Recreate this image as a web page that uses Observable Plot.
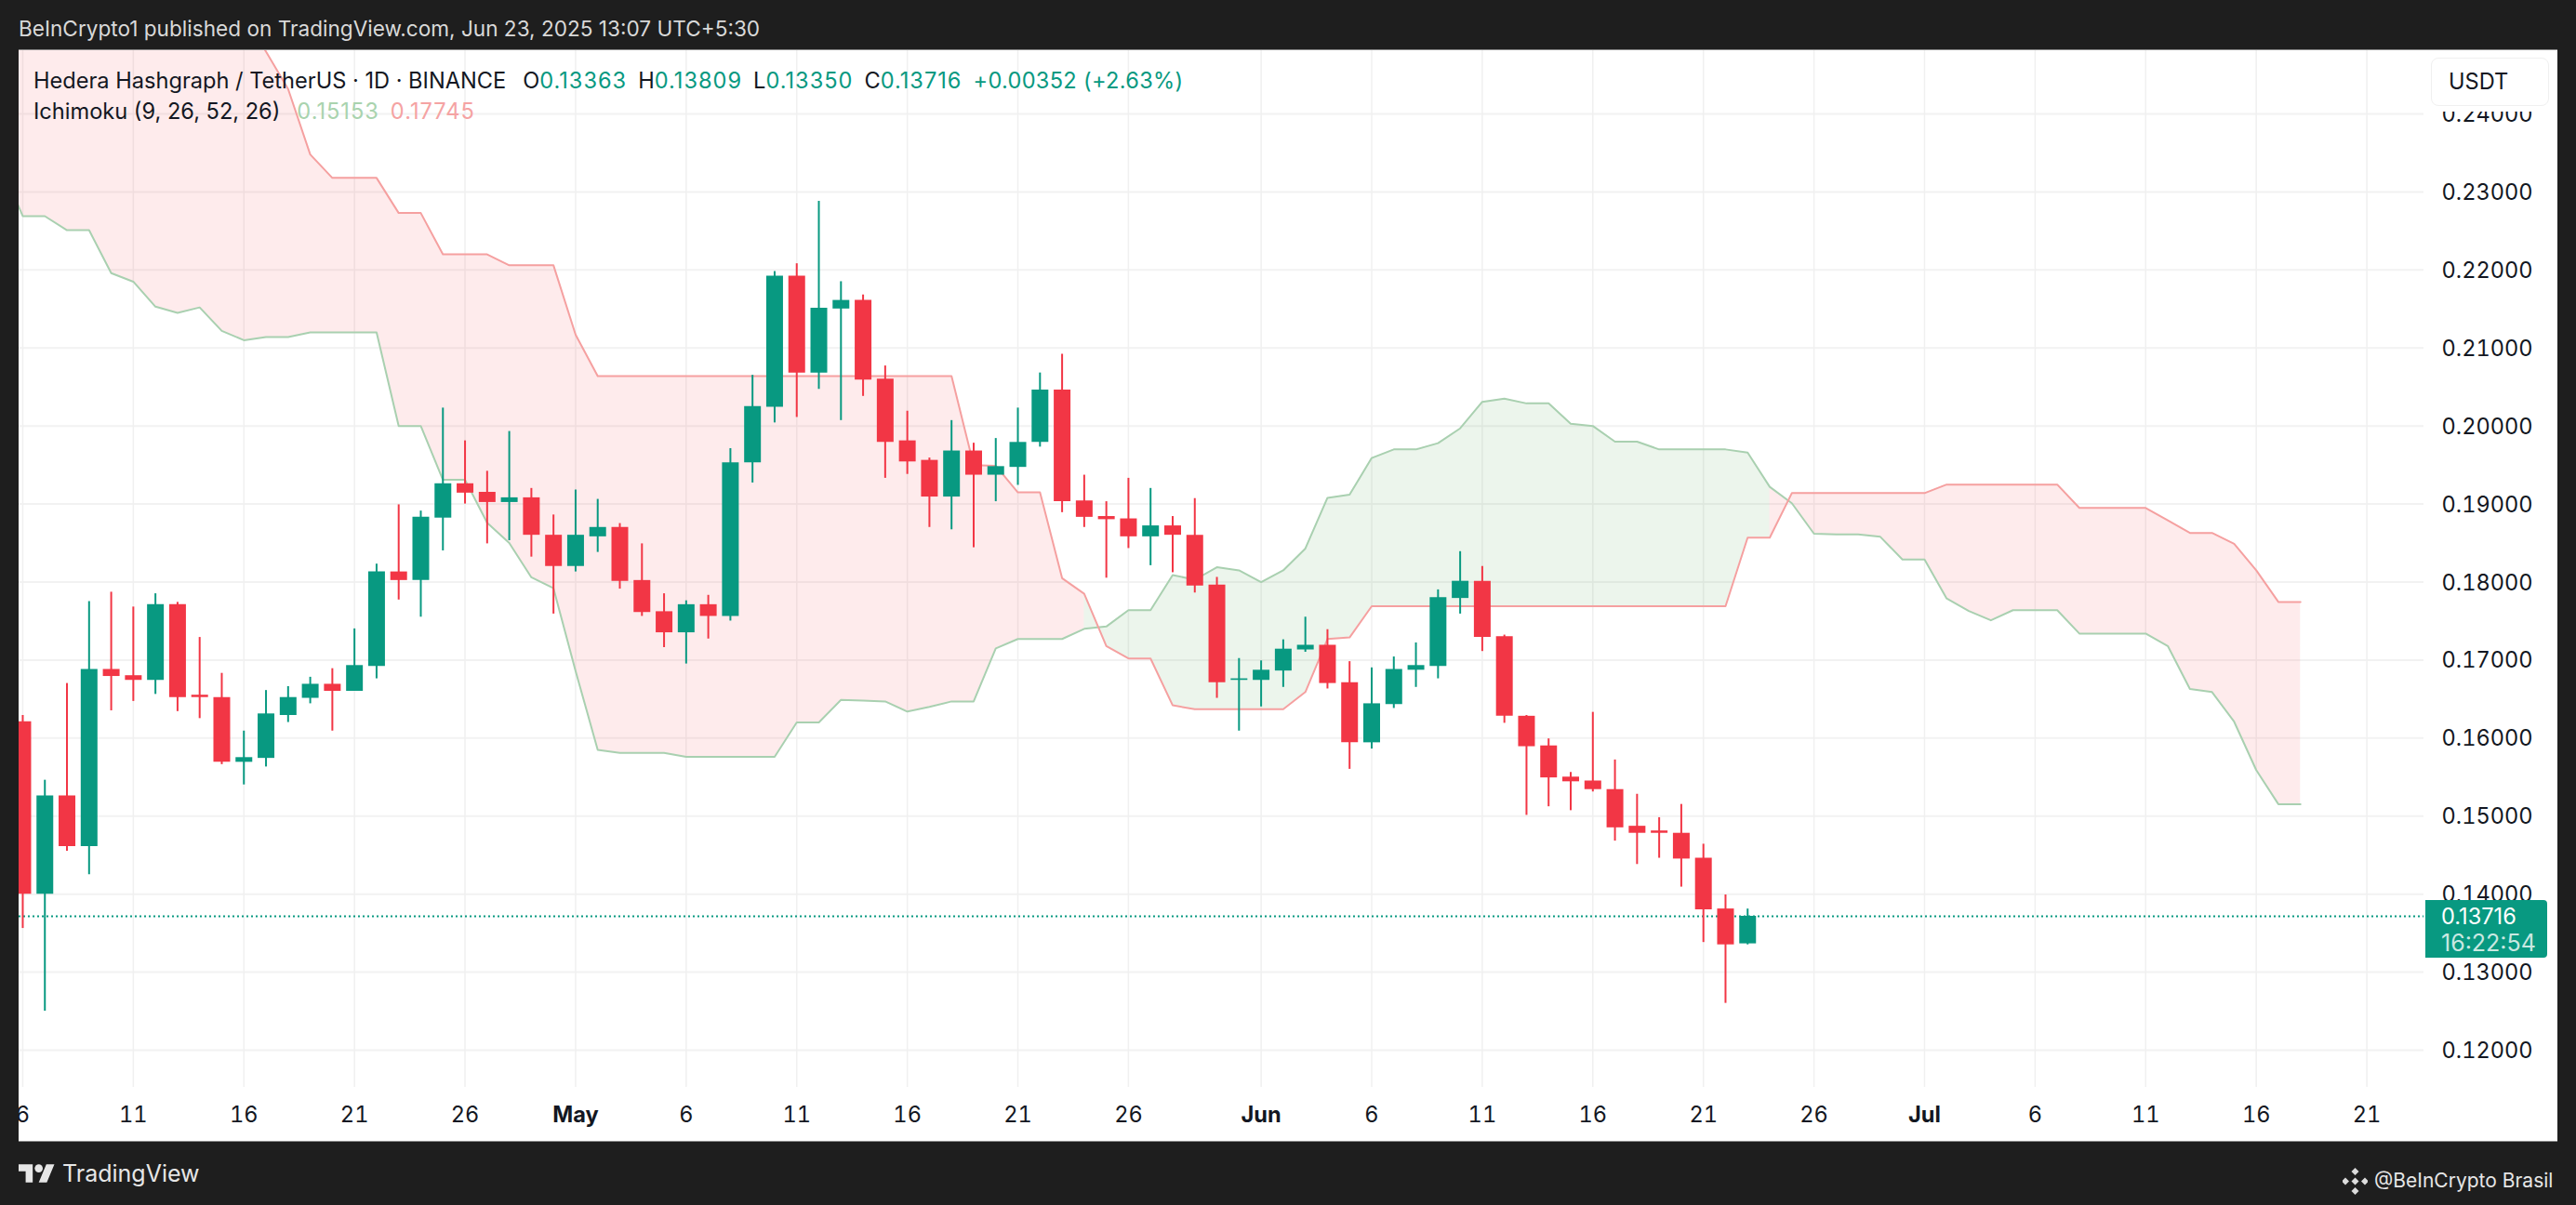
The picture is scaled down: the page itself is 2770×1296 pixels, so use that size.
<!DOCTYPE html>
<html><head><meta charset="utf-8">
<script src="https://cdn.jsdelivr.net/npm/d3@7"></script>
<script src="https://cdn.jsdelivr.net/npm/@observablehq/plot@0.6"></script>
<style>
html,body{margin:0;padding:0;width:2770px;height:1296px;overflow:hidden;background:#1e1e1e;font-family:Inter,Roboto,sans-serif}
.abs{position:absolute;white-space:pre;line-height:1}
#panel{position:absolute;left:20px;top:53px;width:2730px;height:1173px;background:#fff;border-top:1px solid #8c8c8c;border-bottom:1px solid #8c8c8c;box-sizing:content-box}
#chart{position:absolute;left:20px;top:54px}
#chart svg{display:block}
.g{color:#089981;letter-spacing:1px}.k{color:#131722}
.sp{display:inline-block;width:12px}
</style></head><body>
<div id="panel"></div>
<div id="chart"></div>
<div class="abs" style="left:20px;top:20px;font-size:22.6px;color:#d9d9d9">BeInCrypto1 published on TradingView.com, Jun 23, 2025 13:07 UTC+5:30</div>
<div class="abs k" style="left:36px;top:75px;font-size:23.6px">Hedera Hashgraph / TetherUS · 1D · BINANCE<span class="sp" style="width:18px"></span>O<span class="g">0.13363</span><span class="sp"></span>H<span class="g">0.13809</span><span class="sp"></span>L<span class="g">0.13350</span><span class="sp"></span>C<span class="g">0.13716</span><span class="sp"></span><span class="g" style="letter-spacing:0.3px">+0.00352 (+2.63%)</span></div>
<div class="abs k" style="left:36px;top:108px;font-size:23.6px">Ichimoku (9, 26, 52, 26)<span class="sp" style="width:18px"></span><span style="color:#a9d3ae;letter-spacing:1px">0.15153</span><span class="sp"></span><span style="color:#f5a3a3;letter-spacing:1px">0.17745</span></div>
<div style="position:absolute;left:2608px;top:55px;width:141px;height:65px;background:#fff"></div>
<div style="position:absolute;left:2614px;top:62px;width:125px;height:50px;background:#fff;border:1px solid #f0f0f0;border-radius:8px"></div>
<div class="abs k" style="left:2633px;top:76px;font-size:23.6px">USDT</div>
<div style="position:absolute;left:2608px;top:968px;width:131px;height:62px;background:#089981;border-radius:0 4px 4px 0"></div>
<div class="abs" style="left:2625px;top:974px;font-size:23.6px;color:#fff">0.13716</div>
<div class="abs" style="left:2625px;top:1002px;font-size:25px;color:#c9e8e1">16:22:54</div>
<svg style="position:absolute;left:20px;top:1252px" width="39" height="20" viewBox="0 4 36 18"><g fill="#e6e6e6"><path d="M14 22H7V11H0V4h14v18zM28 22h-8l7.5-18h8L28 22z"/><circle cx="20" cy="8" r="4"/></g></svg>
<div class="abs" style="left:67px;top:1250px;font-size:25px;color:#e6e6e6">TradingView</div>
<svg style="position:absolute;left:2519px;top:1256px" width="27" height="29" viewBox="0 0 27 29"><g fill="#dcdcdc"><path d="M13.5 0l4 4-4 4-4-4zM13.5 21l4 4-4 4-4-4zM3 10.5l4 4-4 4-4-4zM24 10.5l4 4-4 4-4-4zM13.5 10.5l4 4-4 4-4-4z"/></g></svg>
<div class="abs" style="left:2553px;top:1259px;font-size:21px;color:#e6e6e6">@BeInCrypto Brasil</div>
<script>
const firstCandle = "2025-04-06";
const opens = [.1621,.1400,.1526,.1461,.1688,.1680,.1674,.1771,.1655,.1652,.1569,.1574,.1629,.1651,.1669,.1660,.1692,.1813,.1802,.1882,.1926,.1915,.1902,.1908,.1860,
 .1820,.1858,.1870,.1802,.1762,.1735,.1771,.1756,.1953,.2024,.2192,.2068,.2150,.2161,.2060,.1981,.1956,.1909,.1968,.1937,.1947,.1979,.2046,.1904,.1884,.1881,.1858,.1872,.1860,.1796,.1674,
 .1674,.1686,.1713,.1719,.1671,.1594,.1643,.1687,.1692,.1779,.1801,.1730,.1628,.1590,.1550,.1545,.1534,.1487,.1481,.1478,.1446,.1381,.13363];
const closes = [.1400,.1526,.1461,.1688,.1679,.1674,.1771,.1652,.1652,.1569,.1575,.1631,.1652,.1669,.1660,.1693,.1813,.1802,.1883,.1926,.1914,.1902,.1908,.1860,.1820,
 .1860,.1870,.1801,.1761,.1735,.1771,.1756,.1953,.2025,.2192,.2068,.2151,.2161,.2059,.1979,.1954,.1909,.1968,.1937,.1948,.1979,.2046,.1903,.1883,.1880,.1858,.1872,.1860,.1795,.1671,.1676,
 .1687,.1714,.1719,.1670,.1594,.1644,.1688,.1693,.1780,.1801,.1729,.1628,.1589,.1549,.1544,.1534,.1485,.1478,.1478,.1445,.1380,.1335,.13716];
const highs = [.1629,.1546,.1670,.1775,.1787,.1768,.1785,.1774,.1729,.1683,.1609,.1661,.1666,.1678,.1689,.1740,.1823,.1899,.1891,.2023,.1981,.1942,.1993,.1920,.1886,
 .1918,.1906,.1875,.1849,.1785,.1776,.1783,.1971,.2065,.2198,.2208,.2288,.2185,.2168,.2077,.2019,.1959,.2007,.1978,.1984,.2023,.2068,.2092,.1937,.1903,.1933,.1920,.1884,.1907,.1806,.1702,
 .1699,.1726,.1755,.1739,.1698,.1690,.1704,.1722,.1790,.1839,.1820,.1732,.1629,.1599,.1556,.1633,.1572,.1528,.1498,.1515,.1464,.1399,.13809];
const lows = [.1356,.1250,.1455,.1425,.1635,.1647,.1656,.1634,.1625,.1566,.1540,.1563,.1620,.1644,.1609,.1660,.1676,.1777,.1755,.1840,.1900,.1849,.1853,.1832,.1759,
 .1813,.1838,.1791,.1756,.1716,.1695,.1727,.1750,.1927,.2004,.2011,.2047,.2007,.2038,.1933,.1938,.1870,.1867,.1844,.1903,.1924,.1973,.1889,.1870,.1805,.1843,.1821,.1812,.1786,.1651,.1609,
 .1640,.1665,.1710,.1663,.1560,.1586,.1638,.1665,.1676,.1759,.1711,.1619,.1501,.1512,.1507,.1531,.1468,.1438,.1446,.1409,.1338,.1260,.13350];

const firstCloud = "2025-04-05";
const spanA = [.2335,
 .2269,.2269,.2251,.2251,.2196,.2185,.2153,.2145,.2152,.2122,.2110,.2114,.2114,.2120,.2120,.2120,.2120,.2000,.2000,.1931,.1931,.1876,.1850,.1806,.1792,
 .1686,.1585,.1581,.1581,.1581,.1576,.1576,.1576,.1576,.1576,.1620,.1620,.1649,.1648,.1647,.1634,.1640,.1647,.1647,.1715,.1727,.1727,.1727,.1740,.1743,.1764,.1764,.1809,.1803,.1819,.1815,
 .1800,.1815,.1843,.1908,.1912,.1959,.1970,.1970,.1978,.1997,.2031,.2035,.2029,.2029,.2003,.2000,.1980,.1980,.1970,.1970,.1970,.1970,.1966,.1922,.1901,.1862,.1861,.1861,.1858,.1829,
 .1829,.1779,.1763,.1751,.1764,.1764,.1764,.1734,.1734,.1734,.1734,.1718,.1663,.1659,.1621,.1559,.15153,.15153];
const spanB = [.2700,.2700,.2700,.2680,.2680,.2650,.2650,.2620,.2600,.2580,.2550,.2520,
 .2480,.2432,.2348,.2318,.2318,.2318,.2273,.2273,.2220,.2220,.2220,.2206,.2206,.2206,
 .2117,.2064,.2064,.2064,.2064,.2064,.2064,.2064,.2064,.2064,.2064,.2064,.2064,.2064,.2064,.2064,.2064,.2064,.1950,.1949,.1915,.1915,.1805,.1785,.1718,.1702,.1702,.1642,.1637,.1637,.1637,
 .1637,.1637,.1659,.1727,.1729,.1769,.1769,.1769,.1769,.1769,.1769,.1769,.1769,.1769,.1769,.1769,.1769,.1769,.1769,.1769,.1769,.1769,.1857,.1857,.1914,.1914,.1914,.1914,.1914,.1914,
 .1914,.1925,.1925,.1925,.1925,.1925,.1925,.1895,.1895,.1895,.1895,.1879,.1863,.1863,.1849,.1815,.17745,.17745];

const lastPrice = 0.13716;
const priceTicks = [.12,.13,.14,.15,.16,.17,.18,.19,.20,.21,.22,.23,.24];
const dayTicks = ["2025-04-06","2025-04-11","2025-04-16","2025-04-21","2025-04-26","2025-05-06","2025-05-11","2025-05-16","2025-05-21","2025-05-26","2025-06-06","2025-06-11","2025-06-16","2025-06-21","2025-06-26","2025-07-06","2025-07-11","2025-07-16","2025-07-21"];
const monthTicks = ["2025-05-01","2025-06-01","2025-07-01"];
const monthNames = ["May","Jun","Jul"];
const greenCloudFrom = "2025-05-24", greenCloudTo = "2025-06-24";

const U = s => new Date(s + "T00:00:00Z");
const addDays = (s, n) => d3.utcDay.offset(U(s), n);
const candles = opens.map((o, i) => ({date: addDays(firstCandle, i), o, c: closes[i], h: highs[i], l: lows[i]}));
const cloud = spanA.map((a, i) => ({date: addDays(firstCloud, i), a, b: spanB[i]}));
const up = d => d.c >= d.o;
const GREEN = "#089981", RED = "#f23645";
const g0 = U(greenCloudFrom), g1 = U(greenCloudTo);
const dayAll = dayTicks.map(U), monthAll = monthTicks.map(U);
const font = {fontSize: 23.6, fill: "#131722", fontFamily: "Inter,Roboto,sans-serif"};

const chart = Plot.plot({
  width: 2730, height: 1171,
  marginLeft: 0, marginRight: 144, marginTop: 0, marginBottom: 56,
  style: {background: "transparent", overflow: "hidden"},
  x: {type: "utc", domain: [new Date(Date.UTC(2025,3,5,20)), new Date(Date.UTC(2025,6,23,14))], range: [0, 2586]},
  y: {domain: [0.11523, 0.24811]},
  marks: [
    Plot.gridY(priceTicks, {stroke: "#f2f2f2", strokeOpacity: 1, strokeWidth: 2}),
    Plot.gridX([...dayAll, ...monthAll], {stroke: "#f0f0f0", strokeOpacity: 1, strokeWidth: 1.5}),
    Plot.areaY(cloud.filter(d => d.date <= g0), {x: "date", y1: "a", y2: "b", fill: RED, fillOpacity: 0.1, clip: true}),
    Plot.areaY(cloud.filter(d => d.date >= g0 && d.date <= g1), {x: "date", y1: "a", y2: "b", fill: "#43a047", fillOpacity: 0.1, clip: true}),
    Plot.areaY(cloud.filter(d => d.date >= g1), {x: "date", y1: "a", y2: "b", fill: RED, fillOpacity: 0.1, clip: true}),
    Plot.lineY(cloud, {x: "date", y: "a", stroke: "#a9d0b0", strokeWidth: 2, clip: true}),
    Plot.lineY(cloud, {x: "date", y: "b", stroke: "#f5a0a0", strokeWidth: 2, clip: true}),
    Plot.ruleY([lastPrice], {stroke: GREEN, strokeWidth: 2, strokeDasharray: "2,3"}),
    Plot.ruleX(candles, {x: "date", y1: "l", y2: "h", stroke: d => up(d) ? GREEN : RED, strokeWidth: 2, clip: true}),
    Plot.ruleX(candles, {x: "date", y1: "o", y2: "c", stroke: d => up(d) ? GREEN : RED, strokeWidth: 18, clip: true}),
    Plot.axisY({anchor: "right", ticks: priceTicks, tickFormat: d3.format(".5f"), tickSize: 0, tickPadding: 19, label: null, dy: 1, ...font}),
    Plot.axisX({ticks: dayAll, tickFormat: d => String(d.getUTCDate()), tickSize: 0, tickPadding: 21, label: null, ...font}),
    Plot.axisX({ticks: monthAll, tickFormat: d => monthNames[monthAll.findIndex(m => +m === +d)], tickSize: 0, tickPadding: 21, label: null, ...font, fontWeight: 700})
  ]
});
document.getElementById("chart").appendChild(chart);
</script>
</body></html>
